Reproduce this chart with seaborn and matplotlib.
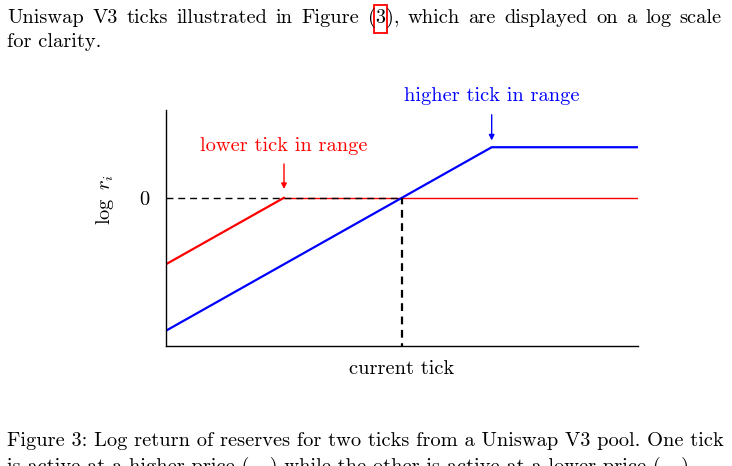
import matplotlib
matplotlib.use("Agg")
import matplotlib.pyplot as plt
import matplotlib.patches as mpatches
import seaborn as sns
import numpy as np
import pandas as pd

# 데이터 (x: tick 위치 0~100, y: log r_i)
lower_x = [0, 25, 100]
lower_y = [-1.0, 0.0, 0.0]
upper_x = [0, 69, 100]
upper_y = [-2.0, 0.76, 0.76]
current_tick = 50
y_ticks = [0]
y_tick_labels = ['0']

body_line1 = 'Uniswap V3 ticks illustrated in Figure (3), which are displayed on a log scale'
body_line2 = 'for clarity.'
caption1 = 'Figure 3: Log return of reserves for two ticks from a Uniswap V3 pool. One tick'
caption2 = 'is active at a higher price (\u2014) while the other is active at a lower price (\u2014).'

sns.set_style('white')
plt.rcParams['font.family'] = ['cmr10', 'DejaVu Serif']
plt.rcParams['mathtext.fontset'] = 'cm'
plt.rcParams['axes.unicode_minus'] = False
plt.rcParams['text.color'] = 'black'
plt.rcParams['axes.labelcolor'] = 'black'
plt.rcParams['ytick.color'] = 'black'

fs = 14.7

fig = plt.figure(figsize=(7.32, 4.66), dpi=100)
ax = fig.add_axes([166 / 732, 1 - 346 / 466, 472 / 732, 236 / 466])

lower = pd.DataFrame({'x': lower_x, 'y': lower_y})
upper = pd.DataFrame({'x': upper_x, 'y': upper_y})

# 빨간선: 기울어진 부분은 굵게, 평평한 부분은 얇게
sns.lineplot(data=lower.iloc[1:], x='x', y='y', color='red', lw=1.0, ax=ax)
sns.lineplot(data=lower.iloc[:2], x='x', y='y', color='red', lw=1.6, ax=ax)
sns.lineplot(data=upper, x='x', y='y', color='blue', lw=1.6, ax=ax)

# 점선
ax.plot([0, current_tick], [0, 0], color='black', lw=1.0, ls=(0, (5, 3.5)))
ax.plot([current_tick, current_tick], [-2.3, 0], color='black', lw=1.6, ls=(0, (3.5, 2.5)))

ax.set_xlim(0, 100)
ax.set_ylim(-2.23, 1.32)
ax.set_xticks([])
ax.set_yticks(y_ticks)
ax.set_yticklabels(y_tick_labels, fontsize=fs)
ax.tick_params(axis='y', length=0, pad=12)
for s in ['top', 'right']:
    ax.spines[s].set_visible(False)
for s in ['left', 'bottom']:
    ax.spines[s].set_color('black')
    ax.spines[s].set_linewidth(1.0)

ax.set_xlabel('current tick', fontsize=fs, labelpad=10)
ax.set_ylabel(r'$\log\ r_i$', fontsize=fs)
ax.yaxis.set_label_coords(-0.106, 0.62)

# 주석
ax.text(25, 0.78, 'lower tick in range', color='red', fontsize=fs, ha='center', va='center')
ax.annotate('', xy=(25, 0.09), xytext=(25, 0.55),
            arrowprops=dict(arrowstyle='-|>', color='red', lw=1.0, mutation_scale=8))
ax.text(69, 1.53, 'higher tick in range', color='blue', fontsize=fs, ha='center', va='center', clip_on=False)
ax.annotate('', xy=(69, 0.82), xytext=(69, 1.29),
            arrowprops=dict(arrowstyle='-|>', color='blue', lw=1.0, mutation_scale=8),
            annotation_clip=False)

# 본문 첫 줄: 단어별로 배치해서 양쪽 정렬
W, H = 732, 466
renderer = fig.canvas.get_renderer()


def text_width(s):
    t = fig.text(0, 0, s, fontsize=fs)
    w = t.get_window_extent(renderer).width
    t.remove()
    return w


words = body_line1.split(' ')
widths = [text_width(w) for w in words]
gap = (715 - sum(widths)) / (len(words) - 1)
x = 7.0
y1 = 1 - 18 / H
for w, wd in zip(words, widths):
    fig.text(x / W, y1, w, fontsize=fs, va='center', ha='left')
    if w.startswith('(3'):
        # 링크 박스
        bx = x + text_width('(') - 1
        bw = text_width('3') + 2
        fig.patches.append(mpatches.Rectangle((bx / W, 1 - 33 / H), bw / W, 28 / H,
                                              transform=fig.transFigure, fill=False,
                                              ec='red', lw=1.3))
    x += wd + gap

fig.text(7 / W, 1 - 42 / H, body_line2, fontsize=fs, va='center', ha='left')
fig.text(7 / W, 1 - 441 / H, caption1, fontsize=fs, va='center', ha='left')
fig.text(7 / W, 1 - 467 / H, caption2, fontsize=fs, va='center', ha='left')

fig.savefig('out.png', dpi=100)
